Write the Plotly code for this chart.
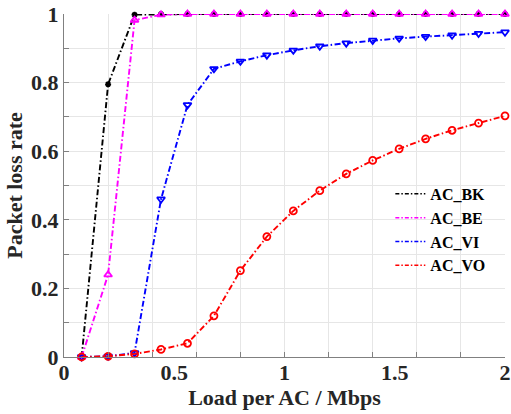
import plotly.graph_objects as go

load = [0.08, 0.20, 0.32, 0.44, 0.56, 0.68, 0.80, 0.92, 1.04, 1.16, 1.28, 1.40, 1.52, 1.64, 1.76, 1.88, 2.00]
ac_bk = [0.0, 0.795, 0.998, 1.0, 1.0, 1.0, 1.0, 1.0, 1.0, 1.0, 1.0, 1.0, 1.0, 1.0, 1.0, 1.0, 1.0]
ac_be = [0.0, 0.24, 0.982, 0.998, 1.0, 1.0, 1.0, 1.0, 1.0, 1.0, 1.0, 1.0, 1.0, 1.0, 1.0, 1.0, 1.0]
ac_vi = [0.0, 0.002, 0.012, 0.46, 0.735, 0.84, 0.862, 0.88, 0.894, 0.906, 0.915, 0.923, 0.929, 0.934, 0.938, 0.943, 0.947]
ac_vo = [0.0, 0.002, 0.009, 0.022, 0.04, 0.12, 0.252, 0.351, 0.426, 0.485, 0.534, 0.573, 0.607, 0.636, 0.661, 0.682, 0.703]

x_grid_ticks = [0, 0.2, 0.4, 0.6, 0.8, 1.0, 1.2, 1.4, 1.6, 1.8, 2.0]
x_label_ticks = [0, 0.5, 1, 1.5, 2]
x_label_text = ["0", "0.5", "1", "1.5", "2"]
y_ticks = [0, 0.2, 0.4, 0.6, 0.8, 1]
y_text = ["0", "0.2", "0.4", "0.6", "0.8", "1"]

FONT = "Liberation Serif"
DASH = "6px,2.5px,1.5px,2.5px"

series = [
    ("AC_BK", ac_bk, "#000000", "asterisk-open", 5),
    ("AC_BE", ac_be, "#ff00ff", "triangle-up-open", 7),
    ("AC_VI", ac_vi, "#0000ff", "triangle-down-open", 7),
    ("AC_VO", ac_vo, "#ff0000", "circle-open", 7),
]

fig = go.Figure()
for name, ys, col, sym, sz in series:
    fig.add_trace(go.Scatter(
        x=load, y=ys, name=name, mode="lines+markers", showlegend=False,
        line=dict(color=col, width=1.9, dash=DASH),
        marker=dict(symbol=sym, size=sz, color=col, line=dict(color=col, width=1.8)),
        cliponaxis=False,
    ))
# legend entries (line only, as in the original legend)
for name, ys, col, sym, sz in series:
    fig.add_trace(go.Scatter(
        x=[None], y=[None], name=name, mode="lines",
        line=dict(color=col, width=1.5, dash="4px,2px,1.5px,2px"),
    ))

fig.update_layout(
    width=511, height=414,
    margin=dict(l=64, r=6, t=14, b=57),
    paper_bgcolor="white", plot_bgcolor="white",
    font=dict(family=FONT, color="#262626"),
    showlegend=True,
    legend=dict(
        x=0.74, y=0.525, xanchor="left", yanchor="top",
        bgcolor="rgba(255,255,255,0)", borderwidth=0,
        font=dict(family=FONT, size=16, color="#000000", weight="bold"),
        itemwidth=30, tracegroupgap=0,
    ),
    xaxis=dict(
        range=[0, 2], tickmode="array", tickvals=x_grid_ticks,
        ticktext=[""] * len(x_grid_ticks), automargin=False,
        showgrid=True, gridcolor="#e6e6e6", gridwidth=1,
        ticks="inside", ticklen=5, tickcolor="#808080",
        showline=True, linecolor="#808080", linewidth=1,
        zeroline=False, mirror=False,
    ),
    xaxis2=dict(
        overlaying="x", side="bottom", anchor="y", matches="x",
        range=[0, 2], tickmode="array", tickvals=x_label_ticks, ticktext=x_label_text,
        showgrid=False, ticks="", zeroline=False, showline=False,
        ticklabeloverflow="allow", automargin=False,
        tickfont=dict(family=FONT, size=22, color="#262626", weight="bold"),
        title=dict(text="Load per AC / Mbps", standoff=4,
                   font=dict(family=FONT, size=22, color="#262626", weight="bold")),
    ),
    yaxis=dict(
        range=[0, 1], tickmode="array", tickvals=y_ticks, ticktext=y_text,
        showgrid=True, gridcolor="#e6e6e6", gridwidth=1,
        ticks="inside", ticklen=5, tickcolor="#808080",
        minor=dict(dtick=0.1, showgrid=True, gridcolor="#e6e6e6", ticks="inside", ticklen=5, tickcolor="#808080"),
        showline=True, linecolor="#808080", linewidth=1, zeroline=False,
        ticklabeloverflow="allow", automargin=False,
        tickfont=dict(family=FONT, size=22, color="#262626", weight="bold"),
        title=dict(text="Packet loss rate", standoff=2,
                   font=dict(family=FONT, size=22, color="#262626", weight="bold")),
    ),
)
# attach an invisible copy of one series to the label axis so it is drawn
fig.add_trace(go.Scatter(x=load, y=ac_vo, xaxis="x2", mode="none", showlegend=False, hoverinfo="skip"))

fig.write_html("out.html")
